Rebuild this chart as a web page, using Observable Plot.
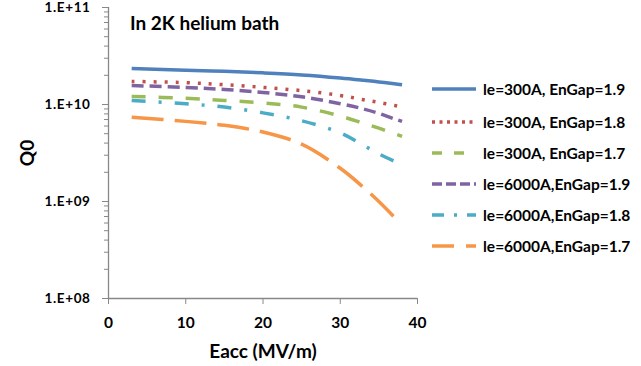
<!DOCTYPE html>
<html><head><meta charset="utf-8">
<script src="https://cdn.jsdelivr.net/npm/d3@7"></script>
<script src="https://cdn.jsdelivr.net/npm/@observablehq/plot@0.6"></script>
<style>
body{margin:0;background:#fff;font-family:Lato,"DejaVu Sans",sans-serif;}
#wrap{position:relative;width:641px;height:366px;overflow:hidden;}
#title{position:absolute;left:130px;top:11px;font:bold 19px Lato,sans-serif;color:#000;}
#legend{position:absolute;left:432px;top:0;}
.lg{position:absolute;left:0;height:20px;display:flex;align-items:center;white-space:nowrap;font:bold 15.5px Lato,sans-serif;color:#000;}
.lg svg{margin-right:7px;}
g[aria-label="y-axis label"] text, g[aria-label="x-axis label"] text{font-size:19px;}
g[aria-label="y-axis tick label"] text{font-size:13.5px;letter-spacing:0.6px;}
</style></head><body><div id="wrap"><div id="title">In 2K helium bath</div><div id="legend"></div></div>
<script>
const eacc = [3, 10, 15, 20, 25, 30, 33, 35, 37, 38];
const seriesNames = ["le=300A, EnGap=1.9","le=300A, EnGap=1.8","le=300A, EnGap=1.7","le=6000A,EnGap=1.9","le=6000A,EnGap=1.8","le=6000A,EnGap=1.7"];
const q_300_19 = [2.35e10, 2.25e10, 2.2e10, 2.12e10, 2.02e10, 1.88e10, 1.78e10, 1.71e10, 1.64e10, 1.6e10];
const q_300_18 = [1.73e10, 1.68e10, 1.6e10, 1.5e10, 1.39e10, 1.24e10, 1.12e10, 1.05e10, 9.8e9, 9.4e9];
const q_300_17 = [1.21e10, 1.16e10, 1.1e10, 1.04e10, 9.4e9, 7.6e9, 6.4e9, 5.7e9, 5.0e9, 4.7e9];
const q_6000_19 = [1.57e10, 1.5e10, 1.43e10, 1.33e10, 1.2e10, 1.02e10, 9.0e9, 8.1e9, 7.1e9, 6.7e9];
const q_6000_18 = [1.1e10, 1.02e10, 9.4e9, 8.2e9, 6.8e9, 5.1e9, 3.8e9, 3.1e9, 2.6e9, null];
const q_6000_17 = [7.4e9, 6.7e9, 6.1e9, 5.2e9, 3.9e9, 2.2e9, 1.4e9, 1.0e9, 6.9e8, null];
const seriesValues = [q_300_19, q_300_18, q_300_17, q_6000_19, q_6000_18, q_6000_17];
const colors = ["#4F81BD","#C0504D","#9BBB59","#8064A2","#4BACC6","#F79646"];
const dashes = [null, "3,8", "14,13", "12,6", "14,13,3,13", "32,11"];
const legendDashes = [null, "3,4.5", "10,12", "10,4", "12,10,3,10", "22,12"];
const xTicks = [0, 10, 20, 30, 40];
const yMajorTicks = [1e8, 1e9, 1e10, 1e11];
const yTickLabels = ["1.E+08", "1.E+09", "1.E+10", "1.E+11"];
const yMinorTicks = [];
for (let d = 8; d < 11; d++) for (let k = 2; k <= 9; k++) yMinorTicks.push(k * Math.pow(10, d));

const lineMarks = seriesNames.map((name, i) => {
  const rows = eacc.map((x, j) => ({x, q: seriesValues[i][j], series: name})).filter(r => r.q != null);
  return Plot.line(rows, {x: "x", y: "q", stroke: colors[i], strokeWidth: 3.5,
    strokeDasharray: dashes[i] || undefined, strokeLinecap: "butt", curve: "catmull-rom"});
});

const chart = Plot.plot({
  width: 641, height: 366,
  marginLeft: 108, marginRight: 224, marginTop: 7, marginBottom: 68,
  x: {domain: [0, 40]},
  y: {type: "log", domain: [1e8, 1e11]},
  style: {fontFamily: "Lato, sans-serif", fontWeight: "bold", fontSize: "15.5px", color: "#000", background: "transparent", overflow: "visible"},
  marks: [
    Plot.axisY(yMinorTicks, {tickSize: 4, tickFormat: () => "", stroke: "#888", label: null}),
    Plot.axisY(yMajorTicks, {tickSize: 6, tickPadding: 12, stroke: "#888", fill: "#000",
      tickFormat: d => yTickLabels[yMajorTicks.indexOf(d)],
      label: "Q0", labelAnchor: "center", labelOffset: 88, labelArrow: "none"}),
    Plot.axisX(xTicks, {tickSize: 6, tickPadding: 12, stroke: "#888", fill: "#000",
      label: "Eacc (MV/m)", labelAnchor: "center", labelOffset: 59, labelArrow: "none"}),
    Plot.ruleX([0], {stroke: "#888", strokeWidth: 1.3}),
    Plot.ruleY([1e8], {stroke: "#888", strokeWidth: 1.3}),
    ...lineMarks
  ]
});
chart.style.position = "absolute";
chart.style.left = "0";
chart.style.top = "0";
document.getElementById("wrap").prepend(chart);

const legend = document.getElementById("legend");
const rowY = [89, 122, 153, 184, 215, 246];
seriesNames.forEach((name, i) => {
  const div = document.createElement("div");
  div.className = "lg";
  div.style.top = (rowY[i] - 10) + "px";
  const dash = legendDashes[i] ? ` stroke-dasharray="${legendDashes[i]}"` : "";
  div.innerHTML = `<svg width="44" height="8"><line x1="0" y1="4" x2="44" y2="4" stroke="${colors[i]}" stroke-width="3.5"${dash}/></svg><span>${name}</span>`;
  legend.appendChild(div);
});
</script></body></html>
